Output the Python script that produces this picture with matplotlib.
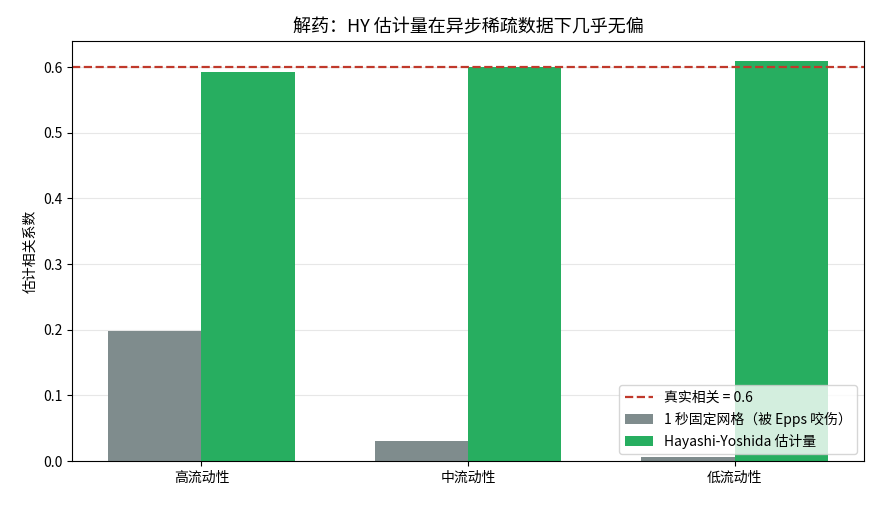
import numpy as np
import matplotlib
matplotlib.use('Agg')
import matplotlib.pyplot as plt

plt.rcParams['font.family'] = ['Noto Sans CJK SC', 'DejaVu Sans']
plt.rcParams['axes.unicode_minus'] = False

categories = ['高流动性', '中流动性', '低流动性']
grid_corr = [0.198, 0.030, 0.006]
hy_corr = [0.593, 0.600, 0.610]
true_corr = 0.6

x = np.arange(len(categories))
width = 0.35

fig, ax = plt.subplots(figsize=(8.8, 5.05), dpi=100)
ax.axhline(true_corr, color='#c0392b', linestyle='--', linewidth=1.6, label=f'真实相关 = {true_corr}')
ax.bar(x - width / 2, grid_corr, width, color='#7f8c8d', label='1 秒固定网格（被 Epps 咬伤）')
ax.bar(x + width / 2, hy_corr, width, color='#27ae60', label='Hayashi-Yoshida 估计量')

ax.set_xticks(x)
ax.set_xticklabels(categories)
ax.set_ylim(0, 0.64)
ax.set_ylabel('估计相关系数')
ax.set_title('解药：HY 估计量在异步稀疏数据下几乎无偏', fontsize=13)
ax.grid(axis='y', alpha=0.3)
ax.set_axisbelow(True)
ax.legend(loc='lower right')

fig.subplots_adjust(left=0.082, right=0.982, top=0.919, bottom=0.087)
fig.savefig('out.png', dpi=100)
